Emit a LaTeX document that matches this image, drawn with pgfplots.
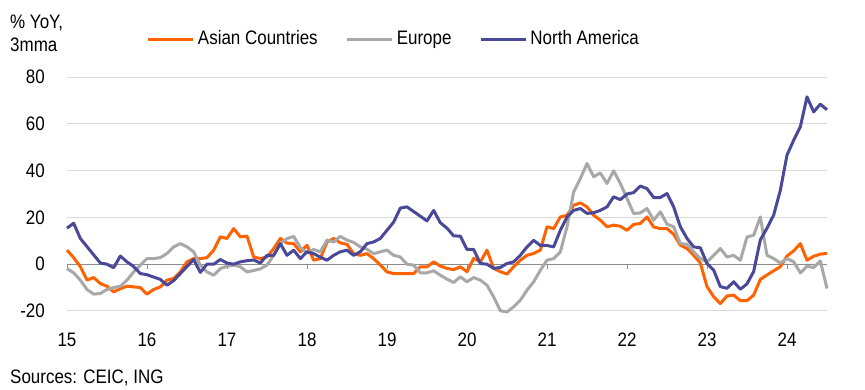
\documentclass[border=0pt]{standalone}
\usepackage{pgfplots}
\pgfplotsset{compat=1.18}
\usepackage{fontspec}
\setmainfont[FakeStretch=0.87]{Liberation Sans}
\definecolor{ingorange}{RGB}{255,98,0}
\definecolor{inggray}{RGB}{168,168,168}
\definecolor{ingblue}{RGB}{74,72,152}
\definecolor{gridgray}{RGB}{217,217,217}
\definecolor{zerogray}{RGB}{140,140,140}
\begin{document}
\fontsize{19.5}{23}\selectfont
\begin{tikzpicture}[x=1pt,y=1pt]
\useasboundingbox (0,0) rectangle (865,390);
\begin{axis}[
  at={(67pt,79pt)}, anchor=south west,
  scale only axis, width=760pt, height=234pt,
  xmin=0, xmax=114, ymin=-20, ymax=80,
  clip=false,
  axis line style={draw=none},
  major tick length=0pt,
  xtick={0,12,24,36,48,60,72,84,96,108},
  xticklabels={15,16,17,18,19,20,21,22,23,24},
  ytick={-20,20,40,60,80},
  extra y ticks={0},
  extra y tick style={grid style={draw=zerogray, line width=1pt}},
  ymajorgrids,
  grid style={draw=gridgray, line width=1pt},
  /pgf/number format/assume math mode=true,
  tick label style={font=\fontsize{19.5}{23}\selectfont},
  xticklabel style={anchor=center, inner sep=0pt, yshift=-29pt},
  yticklabel style={anchor=east, inner sep=0pt, xshift=-22pt},
  legend columns=3,
  legend style={at={(0.105,1.162)}, anchor=west, draw=none, fill=none,
    inner sep=0pt, nodes={inner sep=0pt},
    font=\fontsize{19.5}{23}\selectfont,
    /tikz/every odd column/.append style={column sep=3pt},
    /tikz/every even column/.append style={column sep=28pt}},
  legend image code/.code={\draw[#1] (0pt,0pt) -- (45pt,0pt);},
  every axis plot/.append style={line width=3pt, line join=round},
]
\pgfplotsinvokeforeach{0,12,24,36,48,60,72,84,96,108}{
  \draw[zerogray, line width=1pt] (axis cs:#1,0) -- ([yshift=-5pt]axis cs:#1,0);
}
\addplot[ingorange] table {
0 6
1 2.8
2 -1
3 -6.8
4 -5.7
5 -8.3
6 -9.4
7 -11.8
8 -10.5
9 -9.4
10 -9.7
11 -10
12 -12.8
13 -10.8
14 -9.7
15 -6.8
16 -6.1
17 -3.3
18 1
19 2.4
20 2.4
21 2.8
22 6
23 11.7
24 11
25 15.2
26 11.7
27 12
28 3.1
29 2.4
30 3.1
31 6.7
32 11
33 9
34 8.8
35 5.3
36 8.1
37 1.7
38 2.4
39 9.5
40 11
41 9.1
42 8.5
43 4.5
44 3.8
45 4.5
46 2.4
47 -0.4
48 -3.3
49 -4
50 -4
51 -4
52 -4
53 -1.1
54 -1.1
55 1
56 -0.8
57 -1.8
58 -2.3
59 -1.1
60 -3.2
61 2.5
62 1
63 6
64 -1.8
65 -3.2
66 -4.2
67 -1.1
68 1.7
69 3.8
70 4.6
71 6
72 16
73 15.2
74 20.2
75 20.9
76 25.2
77 26.2
78 24.5
79 20.9
80 18.8
81 16
82 16.7
83 16.2
84 14.5
85 17
86 17.4
87 20.2
88 15.9
89 15.2
90 15.2
91 12.8
92 8.1
93 6.7
94 3.8
95 0.5
96 -9.6
97 -13.9
98 -16.8
99 -13.6
100 -13.2
101 -15.6
102 -15.6
103 -13.2
104 -6.5
105 -4.6
106 -2.8
107 -1.1
108 3.5
109 5.7
110 8.8
111 1.7
112 3.4
113 4.3
114 4.6
};
\addlegendentry{Asian Countries}
\addplot[inggray] table {
0 -1.9
1 -3.7
2 -6.8
3 -10.8
4 -12.8
5 -12.5
6 -10.8
7 -10
8 -9.4
9 -6.8
10 -3.3
11 -0.4
12 2.4
13 2.4
14 2.8
15 4.6
16 7.4
17 8.8
18 7.4
19 5.3
20 -0.4
21 -3.3
22 -4.7
23 -1.9
24 -0.9
25 -0.4
26 -1.1
27 -3.3
28 -2.7
29 -2
30 -0.4
31 3.8
32 8.8
33 10.9
34 11.9
35 7.1
36 4.8
37 6.3
38 5.3
39 10.3
40 9.5
41 11.9
42 10.3
43 9.3
44 7.4
45 6.4
46 4.5
47 5.3
48 6
49 3.8
50 3.1
51 0
52 -0.4
53 -3.7
54 -3.7
55 -2.8
56 -4.7
57 -6.4
58 -7.8
59 -5.4
60 -7.5
61 -5.7
62 -6.8
63 -9
64 -14
65 -19.9
66 -20.4
67 -18.2
68 -15.4
69 -11.1
70 -7.5
71 -2.6
72 1.7
73 2.4
74 5.3
75 16
76 30.9
77 36.6
78 43
79 37.4
80 39
81 34.5
82 39.9
83 34.5
84 28.1
85 21.7
86 21.9
87 23.8
88 18.8
89 22.4
90 17.1
91 16
92 8.8
93 8.5
94 5.3
95 2.4
96 1
97 3.8
98 6.7
99 3.1
100 3.8
101 1.7
102 11.6
103 12.4
104 20.2
105 3.8
106 2.4
107 0.5
108 2.4
109 1
110 -3.7
111 -0.9
112 -1.4
113 1.4
114 -10.4
};
\addlegendentry{Europe}
\addplot[ingblue] table {
0 15.4
1 17.5
2 11
3 7.5
4 4
5 0.5
6 0
7 -1.5
8 3.5
9 1
10 -1
11 -4
12 -4.5
13 -5.5
14 -6.5
15 -9
16 -7
17 -4
18 -1
19 2
20 -3.5
21 0
22 0
23 2
24 0.5
25 0
26 1
27 1.5
28 1.8
29 0.5
30 3.8
31 3.8
32 8.8
33 3.8
34 6
35 2.4
36 5.3
37 4.5
38 3
39 1.7
40 3.8
41 5.3
42 6
43 3.8
44 5.3
45 8.8
46 9.5
47 11
48 14.5
49 18
50 24
51 24.5
52 22.5
53 20.5
54 18.5
55 23
56 17.7
57 15.4
58 12.1
59 12
60 6.3
61 6.3
62 0.3
63 0
64 -1.8
65 -1.4
66 0.3
67 1
68 3.8
69 7.4
70 10.2
71 8
72 8
73 7.4
74 14.5
75 20.2
76 23
77 23.8
78 21.7
79 22
80 23
81 24.5
82 28.8
83 27.6
84 30
85 30.6
86 33.4
87 32.3
88 28.5
89 28.5
90 30.2
91 24.5
92 16
93 11
94 7.4
95 7
96 0.3
97 -2.5
98 -9.6
99 -10.3
100 -7.5
101 -10.7
102 -8.4
103 -3.1
104 10.4
105 15.4
106 21
107 31.6
108 46.6
109 53
110 58.7
111 71.5
112 65.1
113 68.4
114 66
};
\addlegendentry{North America}
\end{axis}
\node[anchor=north west, align=left, inner sep=0pt] at (10,375) {\% YoY,\\3mma};
\node[anchor=base west, inner sep=0pt] at (10,6) {Sources: CEIC, ING};
\end{tikzpicture}
\end{document}
